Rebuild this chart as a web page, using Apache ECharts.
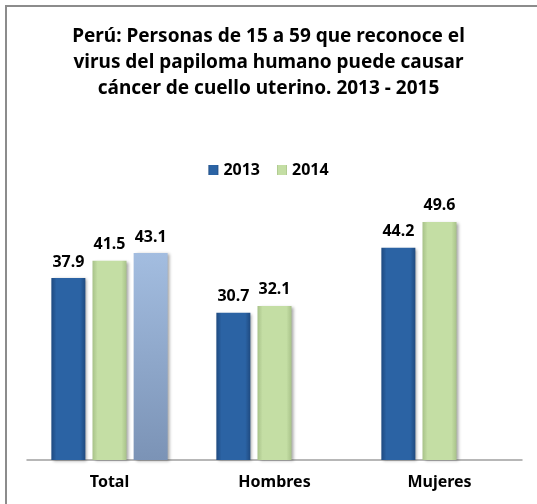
<!DOCTYPE html>
<html>
<head>
<meta charset="utf-8">
<script src="https://cdn.jsdelivr.net/npm/echarts@6/dist/echarts.min.js"></script>
<style>
html,body{margin:0;padding:0;background:#fff;}
#chart{width:537px;height:504px;}
</style>
</head>
<body>
<div id="chart"></div>
<script>
var titleText = 'Perú: Personas de 15 a 59 que reconoce el\nvirus del papiloma humano puede causar\ncáncer de cuello uterino. 2013 - 2015';
var categories = ['Total', 'Hombres', 'Mujeres'];
var legendNames = ['2013', '2014'];
var values2013 = [37.9, 30.7, 44.2];
var values2014 = [41.5, 32.1, 49.6];
var values2015 = [43.1, null, null];

var FONT = '"Noto Sans", "Open Sans", sans-serif';

function hGrad(edge, mid) {
  return new echarts.graphic.LinearGradient(0, 0, 1, 0, [
    {offset: 0, color: edge},
    {offset: 0.15, color: mid},
    {offset: 0.85, color: mid},
    {offset: 1, color: edge}
  ]);
}

var labelCfg = {
  show: true,
  position: 'top',
  distance: 8,
  color: '#000',
  fontFamily: FONT,
  fontWeight: 'bold',
  fontSize: 16,
  formatter: function (p) { return p.value == null ? '' : p.value.toFixed(1); }
};

var shadow = {shadowColor: 'rgba(0,0,0,0.35)', shadowBlur: 3, shadowOffsetX: 2, shadowOffsetY: 1};

var chart = echarts.init(document.getElementById('chart'), null, {renderer: 'canvas'});
chart.setOption({
  animation: false,
  backgroundColor: '#fff',
  graphic: [{
    type: 'rect',
    shape: {x: 6, y: 6, width: 700, height: 700},
    style: {fill: 'none', stroke: '#8c8c8c', lineWidth: 2},
    silent: true,
    z: 100
  }],
  title: {
    text: titleText,
    left: 'center',
    top: 19,
    textStyle: {
      fontFamily: FONT,
      fontWeight: 'bold',
      fontSize: 19,
      lineHeight: 26,
      color: '#000'
    }
  },
  legend: {
    data: legendNames,
    top: 157,
    left: 'center',
    icon: 'rect',
    itemWidth: 10,
    itemHeight: 10,
    itemGap: 17,
    textStyle: {fontFamily: FONT, fontWeight: 'bold', fontSize: 16, color: '#000'}
  },
  grid: {left: 27, right: 15, top: 172, bottom: 44, containLabel: false},
  xAxis: {
    type: 'category',
    data: categories,
    axisLine: {show: true, lineStyle: {color: '#a0a0a0', width: 1.5}},
    axisTick: {show: false},
    axisLabel: {
      margin: 14,
      color: '#000',
      fontFamily: FONT,
      fontWeight: 'bold',
      fontSize: 16
    }
  },
  yAxis: {
    type: 'value',
    min: 0,
    max: 60,
    show: false,
    splitLine: {show: false}
  },
  series: [{
    name: '2013',
    type: 'bar',
    data: values2013,
    barWidth: 34,
    barGap: '21%',
    itemStyle: Object.assign({color: hGrad('#1f4a80', '#2b63a4')}, shadow),
    label: labelCfg
  }, {
    name: '2014',
    type: 'bar',
    data: values2014,
    barWidth: 34,
    barGap: '21%',
    itemStyle: Object.assign({color: hGrad('#a8c289', '#c4dea4')}, shadow),
    label: labelCfg
  }, {
    name: '2015',
    type: 'bar',
    data: values2015,
    barWidth: 34,
    barGap: '21%',
    itemStyle: Object.assign({color: new echarts.graphic.LinearGradient(0, 0, 0, 1, [
      {offset: 0, color: '#a3bde0'},
      {offset: 1, color: '#7b93b6'}
    ])}, shadow),
    label: labelCfg
  }]
});
</script>
</body>
</html>
